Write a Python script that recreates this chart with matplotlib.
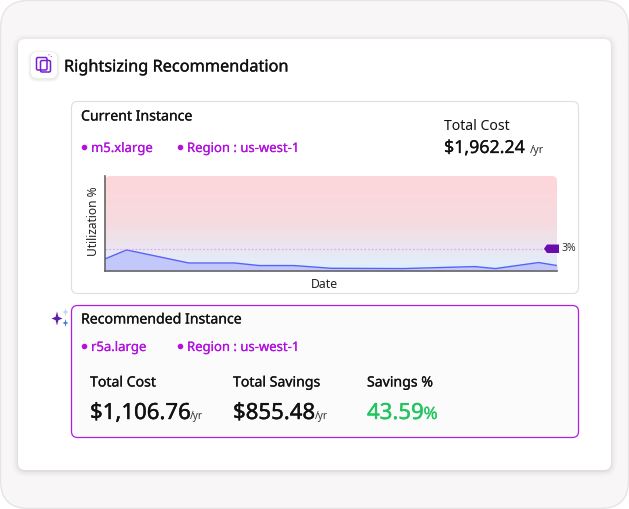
import numpy as np
import matplotlib
matplotlib.use('Agg')
import matplotlib.pyplot as plt
import matplotlib.patheffects as pe
from matplotlib.patches import FancyBboxPatch, Polygon
from matplotlib.colors import LinearSegmentedColormap

W, H = 629, 509

# chart values
days = [0, 1.05, 4.07, 6.3, 7.5, 9.2, 11, 14.5, 18, 19, 21.1, 22]
utilization = [1.64, 2.86, 1.09, 1.09, 0.74, 0.74, 0.37, 0.33, 0.6, 0.33, 1.15, 0.74]
threshold = 3
y_max = 12.9

title = 'Rightsizing Recommendation'
current_tags = ['m5.xlarge', 'Region : us-west-1']
recommended_tags = ['r5a.large', 'Region : us-west-1']
stat_labels = ['Total Cost', 'Total Savings', 'Savings %']
stat_values = ['$1,106.76', '$855.48', '43.59']

plt.rcParams['font.family'] = ['Noto Sans', 'DejaVu Sans']

PURPLE = '#b30fe0'
DARK = '#111111'

fig = plt.figure(figsize=(W / 100, H / 100), dpi=100, facecolor='white')

# page layer in pixel coords
bg = fig.add_axes([0, 0, 1, 1])
bg.set_xlim(0, W)
bg.set_ylim(H, 0)
bg.axis('off')


def box(x0, y0, x1, y1, r, fc, ec='none', lw=1.0, z=1, alpha=None):
    p = FancyBboxPatch((x0, y0), x1 - x0, y1 - y0, boxstyle='round,pad=0,rounding_size=%s' % r,
                       fc=fc, ec=ec, lw=lw, zorder=z, alpha=alpha, mutation_aspect=1)
    bg.add_patch(p)
    return p


def px(size):
    return size * 0.72


def txt(x, y, s, size, color=DARK, stroke=0.0, **kw):
    t = bg.text(x, y, s, fontsize=px(size), color=color, va='center', zorder=6, **kw)
    # no medium weight installed, thicken the regular one a bit
    if stroke:
        t.set_path_effects([pe.withStroke(linewidth=stroke, foreground=color)])
    return t


# outer card
box(0.5, 0.5, 628.5, 508.5, 28, '#f8f6f7', ec='#e6e4e5', lw=1)

# shadow + white card
for grow, a in [(6, 0.012), (4, 0.018), (2.5, 0.025), (1, 0.04)]:
    box(18 - grow, 39 - grow + 1, 611 + grow, 470 + grow + 1, 8 + grow, '#000000', z=2, alpha=a)
box(18, 39, 611, 470, 7, 'white', z=3)

# icon tile
for grow, a in [(3, 0.025), (1.5, 0.05)]:
    box(31 - grow, 52 - grow + 1, 57 + grow, 78 + grow + 1, 6 + grow, '#000000', z=3, alpha=a)
box(31, 52, 57, 78, 6, 'white', z=4)
box(36.5, 57.5, 47, 70, 1.5, 'none', ec='#7a1fd0', lw=1.1, z=5)
box(40.5, 60.5, 50.5, 72, 1.5, 'none', ec='#7a1fd0', lw=1.1, z=5)
bg.plot([48.5, 52], [54.5, 57], color='#a060e0', lw=0.8, ls=':', zorder=5)

txt(64, 67.5, title, 16.3, stroke=0.22)

# current instance box
box(71.5, 101.5, 578.5, 293.5, 6, 'white', ec='#dedede', lw=0.8, z=4)
txt(81, 117, 'Current Instance', 14.1, stroke=0.18)
bg.scatter([84, 180], [147, 147], s=16, color=PURPLE, zorder=6, lw=0)
txt(91, 148.5, current_tags[0], 13.1, color=PURPLE, stroke=0.15)
txt(187, 148.5, current_tags[1], 13.1, color=PURPLE, stroke=0.15)
txt(444, 126, 'Total Cost', 14.1)
txt(444, 148, '$1,962.24', 17.8, stroke=0.2)
txt(530, 150, '/yr', 11, color='#333333')

# recommended box
box(71.5, 305.5, 578.5, 437.5, 6, '#fbfbfb', ec='#b01fe0', lw=0.9, z=4)
txt(81, 320, 'Recommended Instance', 14.1, stroke=0.18)
bg.scatter([84, 180], [346, 346], s=16, color=PURPLE, zorder=6, lw=0)
txt(91, 347.5, recommended_tags[0], 13.1, color=PURPLE, stroke=0.15)
txt(187, 347.5, recommended_tags[1], 13.1, color=PURPLE, stroke=0.15)

for xt, lab in zip([90, 233, 367], stat_labels):
    txt(xt, 383, lab, 14.1, stroke=0.18)
txt(90, 413.5, stat_values[0], 22.2, stroke=0.3)
txt(190, 417, '/yr', 10, color='#333333')
txt(233, 413.5, stat_values[1], 22.2, stroke=0.3)
txt(315, 417, '/yr', 10, color='#333333')
txt(367, 413.5, stat_values[2], 22.2, color='#22c55e', stroke=0.3)
txt(423.5, 415, '%', 17, color='#22c55e', stroke=0.15)


def sparkle(cx, cy, rx, ry, color):
    k = 0.25
    pts = [(cx, cy - ry), (cx + rx * k, cy - ry * k), (cx + rx, cy), (cx + rx * k, cy + ry * k),
           (cx, cy + ry), (cx - rx * k, cy + ry * k), (cx - rx, cy), (cx - rx * k, cy - ry * k)]
    bg.add_patch(Polygon(pts, closed=True, fc=color, ec='none', zorder=6))


sparkle(57, 318.5, 5.5, 7, '#5b1fa8')
sparkle(65.5, 312, 3, 4, '#b9d3f5')
sparkle(65.5, 323, 3, 4, '#3f7fd8')

# chart
x0, x1, y0, y1 = 105, 557, 176, 271
ax = fig.add_axes([x0 / W, 1 - y1 / H, (x1 - x0) / W, (y1 - y0) / H], zorder=5)
ax.set_xlim(0, 22)
ax.set_ylim(0, y_max)
ax.patch.set_alpha(0)

cmap = LinearSegmentedColormap.from_list('bg', ['#fed6d9', '#f6dbe0', '#e0f0ff'])
grad = np.linspace(0, 1, 200).reshape(-1, 1)
im = ax.imshow(grad, cmap=cmap, aspect='auto', extent=[0, 22, 0, y_max], origin='upper', zorder=0)
corner = FancyBboxPatch((x0, y0), x1 - x0, (y1 - y0) + 20, boxstyle='round,pad=0,rounding_size=5',
                        transform=bg.transData, fc='none', ec='none')
bg.add_patch(corner)
im.set_clip_path(corner)

ax.fill_between(days, utilization, 0, color='#c3c8fb', zorder=1, lw=0)
ax.plot(days, utilization, color='#5a62f2', lw=1.0, zorder=2)
ax.axhline(threshold, color='#dcaefa', lw=0.9, ls=(0, (1.5, 1.5)), zorder=2)

for side in ['top', 'right']:
    ax.spines[side].set_visible(False)
for side in ['left', 'bottom']:
    ax.spines[side].set_color('#666666')
    ax.spines[side].set_linewidth(1.2)
ax.set_xticks([])
ax.set_yticks([])

txt(324, 284, 'Date', 12.2, color='#222222', ha='center')
bg.text(93.5, 221.5, 'Utilization %', fontsize=px(12), color='#222222', rotation=90, ha='center', va='center', zorder=6)

# threshold marker, on the chart axes so it sits above the gradient
ax.add_patch(Polygon([(544, 248.7), (547, 244.5), (559, 244.5), (559, 253), (547, 253)], closed=True,
                     fc='#6a0dad', ec='none', zorder=7, transform=bg.transData, clip_on=False))
txt(562, 248.5, '3%', 10.5, color='#333333')

fig.savefig('out.png', dpi=100)
